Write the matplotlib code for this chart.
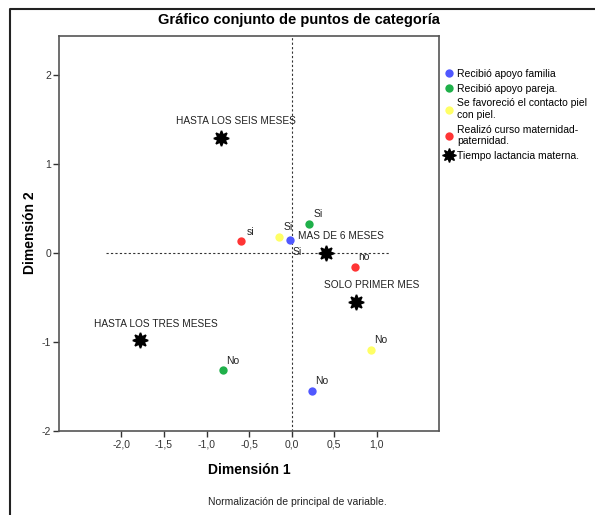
import matplotlib
matplotlib.use('Agg')
import matplotlib.pyplot as plt
from matplotlib.lines import Line2D

plt.rcParams['font.family'] = ['Liberation Sans', 'DejaVu Sans']

# category points (Dimension 1, Dimension 2)
familia_x = [-0.02, 0.24]
familia_y = [0.14, -1.55]
familia_lab = ['Si', 'No']

pareja_x = [0.20, -0.81]
pareja_y = [0.33, -1.32]
pareja_lab = ['Si', 'No']

piel_x = [-0.15, 0.93]
piel_y = [0.18, -1.09]
piel_lab = ['Si', 'No']

curso_x = [-0.60, 0.74]
curso_y = [0.13, -0.16]
curso_lab = ['si', 'no']

tiempo_x = [-0.83, 0.40, 0.76, -1.78]
tiempo_y = [1.29, 0.00, -0.55, -0.98]
tiempo_lab = ['HASTA LOS SEIS MESES', 'MAS DE 6 MESES', 'SOLO PRIMER MES',
              'HASTA LOS TRES MESES']

legend_names = ['Recibió apoyo familia', 'Recibió apoyo pareja.',
                'Se favoreció el contacto piel\ncon piel.',
                'Realizó curso maternidad-\npaternidad.',
                'Tiempo lactancia materna.']
colors = ['#5058ff', '#1fb04a', '#ffff66', '#ff3535']

xticks = [-2.0, -1.5, -1.0, -0.5, 0.0, 0.5, 1.0]
yticks = [-2, -1, 0, 1, 2]

fig = plt.figure(figsize=(5.95, 5.15), dpi=100)
ax = fig.add_axes([59.3 / 595, 1 - 431 / 515, (439 - 59.3) / 595, (431 - 35.7) / 515])

# reference lines
ax.plot([-2.18, 1.15], [0, 0], ls=(0, (2, 2)), color='#333333', lw=0.8, zorder=1)
ax.axvline(0, ls=(0, (2, 2)), color='#333333', lw=0.8, zorder=1)

groups = [(familia_x, familia_y, familia_lab),
          (pareja_x, pareja_y, pareja_lab),
          (piel_x, piel_y, piel_lab),
          (curso_x, curso_y, curso_lab)]
for i, (xs, ys, labs) in enumerate(groups):
    ax.plot(xs, ys, 'o', color=colors[i], ms=6, mec='none', zorder=3)
    for x, y, t in zip(xs, ys, labs):
        off = (7, 7)
        if i == 0 and t == 'Si':
            off = (5, -8)
        ax.annotate(t, (x, y), xytext=off, textcoords='offset points',
                    ha='center', va='center', fontsize=7.5, color='#222222')

ax.plot(tiempo_x, tiempo_y, ls='none', marker=(8, 1, 0), ms=11,
        color='black', mew=1.2, zorder=4)
for x, y, t in zip(tiempo_x, tiempo_y, tiempo_lab):
    ax.annotate(t, (x, y), xytext=(11, 12), textcoords='offset points',
                ha='center', va='center', fontsize=7.3, color='#222222')

ax.set_xlim(-2.73, 1.73)
ax.set_ylim(-2, 2.44)
ax.set_xticks(xticks)
ax.set_xticklabels([('%.1f' % v).replace('.', ',') for v in xticks])
ax.set_yticks(yticks)
ax.set_yticklabels([str(v) for v in yticks])
ax.tick_params(labelsize=7.5, colors='#333333', length=4, width=1, pad=2)
for s in ax.spines.values():
    s.set_color('#555555')
    s.set_linewidth(1.2)

# texts
fig.text(0.503, 1 - 20 / 515, 'Gráfico conjunto de puntos de categoría',
         ha='center', va='center', fontsize=10.5, fontweight='bold')
fig.text(249 / 595, 1 - 470 / 515, 'Dimensión 1', ha='center', va='center',
         fontsize=10, fontweight='bold')
fig.text(30 / 595, 1 - 233 / 515, 'Dimensión 2', ha='center', va='center',
         rotation=90, fontsize=10, fontweight='bold')
fig.text(297 / 595, 1 - 502 / 515, 'Normalización de principal de variable.',
         ha='center', va='center', fontsize=7.5, color='#222222')

# legend
handles = [Line2D([], [], ls='none', marker='o', color=c, mec='none', ms=6)
           for c in colors]
handles.append(Line2D([], [], ls='none', marker=(8, 1, 0), color='black', ms=10))
fig.legend(handles, legend_names, loc='upper left',
           bbox_to_anchor=(445 / 595, 1 - 69 / 515), frameon=False,
           fontsize=7.5, handlelength=0.8, handletextpad=0.35,
           labelspacing=0.45, borderaxespad=0, borderpad=0)

# outer frame
fig.add_artist(Line2D([10 / 595, 10 / 595, 1.01], [-0.01, 1 - 9 / 515, 1 - 9 / 515],
                      transform=fig.transFigure, color='#222222', lw=1.5))

fig.savefig('out.png', dpi=100)
